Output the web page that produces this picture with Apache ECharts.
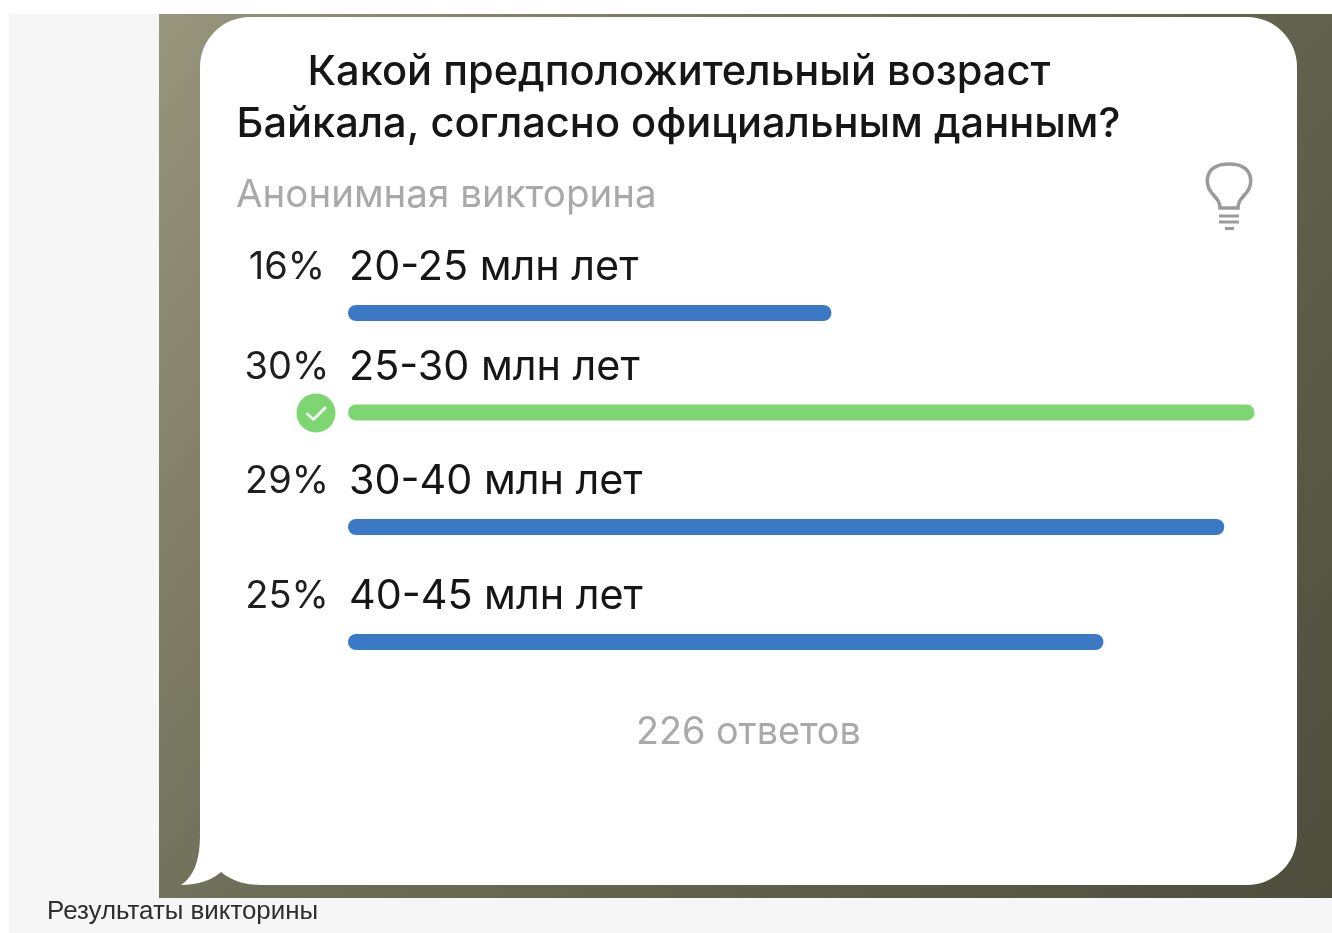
<!DOCTYPE html>
<html><head><meta charset="utf-8">
<style>html,body{margin:0;padding:0;background:#fff}#c{width:1332px;height:933px}</style>
<script src="https://cdn.jsdelivr.net/npm/echarts@6/dist/echarts.min.js"></script>
</head><body><div id="c"></div>
<script>
const categories = ['20-25 млн лет','25-30 млн лет','30-40 млн лет','40-45 млн лет'];
const percents = [16,30,29,25];
const correct = [false,true,false,false];
const titleLines = ['Какой предположительный возраст','Байкала, согласно официальным данным?'];
const subtitle = 'Анонимная викторина';
const footer = '226 ответов';
const caption = 'Результаты викторины';

const barCenters = [313,412.5,527,642];
const FF = 'Inter, "Noto Sans", sans-serif';
const chart = echarts.init(document.getElementById('c'),null,{renderer:'canvas'});

const bubble = 'M250 17 L1247 17 A50 50 0 0 1 1297 67 L1297 835 A50 50 0 0 1 1247 885 L262 885 C245 885 232 881 221 872 C212 880 198 885 181 885 C193 877 200 862 200 835 L200 67 A50 50 0 0 1 250 17 Z';
const bulb = 'M-9 20 C-9 13 -13 10 -18 4 C-25 -5 -24 -24 0 -24 C24 -24 25 -5 18 4 C13 10 9 13 9 20 Z';
echarts.graphic.registerShape('bubbleShape', echarts.graphic.extendPath(bubble,{}));
echarts.graphic.registerShape('bulbShape', echarts.graphic.extendPath(bulb,{}));

const txt=(text,left,top,size,color,extra)=>({text,left,top,padding:0,textStyle:Object.assign({fontFamily:FF,fontSize:size,fontWeight:500,color},extra||{})});

chart.setOption({
  animation:false,
  title:[
    txt(titleLines[0],307.5,51,41.6,'#161616'),
    txt(titleLines[1],236.5,103,41.6,'#161616'),
    txt(subtitle,236,176,38.5,'#a9a9a9',{fontWeight:400}),
    txt(footer,636,714,37.7,'#a9a9a9',{fontWeight:400}),
    txt(caption,47,899,25.9,'#2e2e2e',{fontFamily:'"Liberation Sans", sans-serif',fontWeight:400})
  ],
  graphic:[
    {type:'rect',z:-10,shape:{x:9,y:14,width:1323,height:919},style:{fill:'#f6f6f6'}},
    {type:'rect',z:-9,shape:{x:159,y:14,width:1173,height:884},style:{fill:new echarts.graphic.LinearGradient(0,0,1,1,[{offset:0,color:'#98957d'},{offset:0.4,color:'#6f6e58'},{offset:1,color:'#4d4e3c'}])}},
    {type:'bubbleShape',z:-8,style:{fill:'#ffffff'}},
    {type:'bulbShape',z:-7,x:1229,y:188,style:{fill:null,stroke:'#9a9a9a',lineWidth:3.5}},
    {type:'line',z:-7,shape:{x1:1219,y1:216,x2:1239,y2:216},style:{stroke:'#9a9a9a',lineWidth:3}},
    {type:'line',z:-7,shape:{x1:1219,y1:222,x2:1239,y2:222},style:{stroke:'#9a9a9a',lineWidth:3}},
    {type:'line',z:-7,shape:{x1:1225,y1:228.5,x2:1234,y2:228.5},style:{stroke:'#9a9a9a',lineWidth:3}},
    {type:'circle',z:5,shape:{cx:316,cy:413,r:19.5},style:{fill:'#7dd672'}},
    {type:'polyline',z:6,shape:{points:[[307.5,414],[313.5,419.5],[325,408]]},style:{fill:null,stroke:'#eefaea',lineWidth:3,lineCap:'round',lineJoin:'round'}}
  ],
  grid:barCenters.map(c=>({left:348,width:906.5,top:c-8,height:16})),
  xAxis:categories.map((_,i)=>({type:'value',gridIndex:i,min:0,max:30,show:false})),
  yAxis:categories.map((n,i)=>({type:'category',gridIndex:i,data:[n],show:false})),
  series:categories.map((n,i)=>({
    type:'bar',xAxisIndex:i,yAxisIndex:i,barWidth:16,silent:true,
    data:[percents[i]],
    itemStyle:{color:correct[i]?'#7dd672':'#3b79c5',borderRadius:8},
    label:{show:true,position:[-101,-57.5],
      formatter:()=>`{p|${percents[i]}%}{g|}{n|${n}}`,
      rich:{
        p:{width:80,align:'right',fontFamily:FF,fontSize:38,fontWeight:400,color:'#1f1f1f'},
        g:{width:22},
        n:{fontFamily:FF,fontSize:41.3,fontWeight:400,color:'#161616'}
      }
    }
  }))
});
</script></body></html>
